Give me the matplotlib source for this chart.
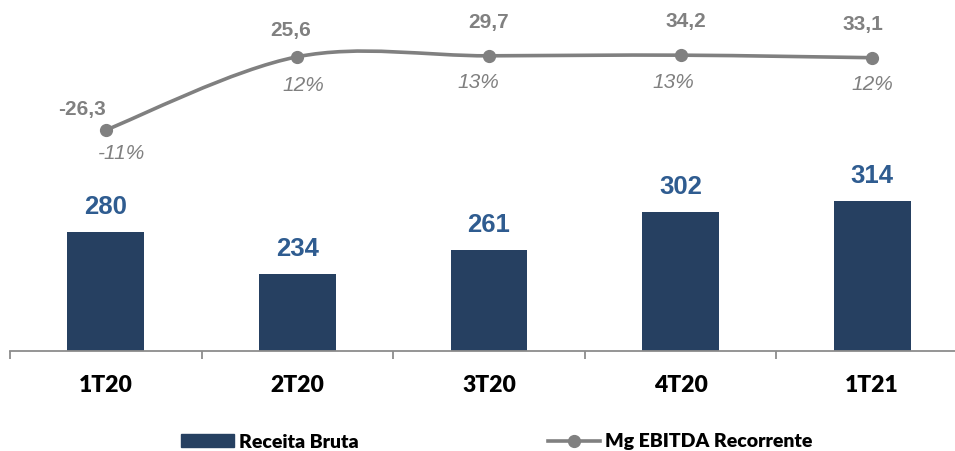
import matplotlib
matplotlib.use("Agg")
import matplotlib.pyplot as plt
from matplotlib.path import Path
from matplotlib.patches import PathPatch, Patch
from matplotlib.lines import Line2D
import numpy as np

# ---- data ----
categories = ["1T20", "2T20", "3T20", "4T20", "1T21"]
receita_bruta = [280, 234, 261, 302, 314]
ebitda_rec = [-26.3, 25.6, 29.7, 34.2, 33.1]
ebitda_labels = ["-26,3", "25,6", "29,7", "34,2", "33,1"]
mg_ebitda = [-10.8, 12.3, 12.6, 12.8, 12.0]
mg_labels = ["-11%", "12%", "13%", "13%", "12%"]

# label offsets in points (style)
ebitda_off = [(-17, 15), (-5, 19), (0, 24), (4, 24), (-7, 24)]
mg_off = [(11, -17), (4, -21), (-8, -19), (-5, -20), (0, -19)]

BAR = "#264061"
BLUE = "#2F5C90"
GRAY = "#808080"

W, H = 955, 451
fig = plt.figure(figsize=(W / 100, H / 100), dpi=100)
left = 10 / W
right = 968 / W
ax = fig.add_axes([left, (H - 351) / H, right - left, 351 / H])
ax2 = ax.twinx()

x = np.arange(len(categories))
ax.bar(x, receita_bruta, width=0.40, color=BAR, zorder=2)
ax.set_xlim(-0.5, len(categories) - 0.5)
ax.set_ylim(150, 534)
for xi, v in zip(x, receita_bruta):
    ax.annotate(str(v), (xi, v), xytext=(0, 18), textcoords="offset points",
                ha="center", va="center", fontsize=18.5, fontweight="bold",
                color=BLUE, family="Liberation Sans")

# spines/ticks
for s in ["top", "right", "left"]:
    ax.spines[s].set_visible(False)
    ax2.spines[s].set_visible(False)
ax2.spines["bottom"].set_visible(False)
ax.spines["bottom"].set_color("#8C8C8C")
ax.spines["bottom"].set_linewidth(1.3)
ax.set_yticks([])
ax2.set_yticks([])
ax.set_xticks(x)
ax.set_xticklabels(categories, fontsize=16.5, fontweight="heavy", family="Lato")
ax.tick_params(axis="x", which="major", length=0, pad=17)
ax.set_xticks(np.arange(-0.5, len(categories)), minor=True)
ax.tick_params(axis="x", which="minor", length=5.5, width=1.3, color="#8C8C8C", direction="out")

# smooth line (Catmull-Rom as cubic Bezier)
ax2.set_ylim(-80.5, 30.2)
pts = np.column_stack([x.astype(float), np.array(mg_ebitda, dtype=float)])
n = len(pts)
verts = [tuple(pts[0])]
codes = [Path.MOVETO]
for i in range(n - 1):
    p0 = pts[max(i - 1, 0)]
    p1 = pts[i]
    p2 = pts[i + 1]
    p3 = pts[min(i + 2, n - 1)]
    c1 = p1 + (p2 - p0) / 6.0
    c2 = p2 - (p3 - p1) / 6.0
    verts += [tuple(c1), tuple(c2), tuple(p2)]
    codes += [Path.CURVE4] * 3
ax2.add_patch(PathPatch(Path(verts, codes), facecolor="none", edgecolor=GRAY,
                        lw=2.6, zorder=3, capstyle="round"))
ax2.plot(x, mg_ebitda, linestyle="none", marker="o", markersize=8.5, color=GRAY, zorder=4)

for xi, m, lab, off in zip(x, mg_ebitda, ebitda_labels, ebitda_off):
    ax2.annotate(lab, (xi, m), xytext=off, textcoords="offset points",
                 ha="center", va="center", fontsize=15, fontweight="bold",
                 color=GRAY, family="Liberation Sans")
for xi, m, lab, off in zip(x, mg_ebitda, mg_labels, mg_off):
    ax2.annotate(lab, (xi, m), xytext=off, textcoords="offset points",
                 ha="center", va="center", fontsize=15, fontstyle="italic",
                 color=GRAY, family="Liberation Sans")

handles = [Patch(facecolor=BAR, edgecolor=BAR),
           Line2D([0], [0], color=GRAY, lw=2.6, marker="o", markersize=8.5)]
fig.legend(handles, ["Receita Bruta", "Mg EBITDA Recorrente"], loc="center",
           bbox_to_anchor=(0.5205, (H - 442) / H), ncol=2, frameon=False,
           prop={"family": "Lato", "weight": "heavy", "size": 14},
           handlelength=2.7, handleheight=0.6, handletextpad=0.28, columnspacing=9.7,
           borderpad=0, borderaxespad=0)

fig.savefig("out.png", dpi=100)
